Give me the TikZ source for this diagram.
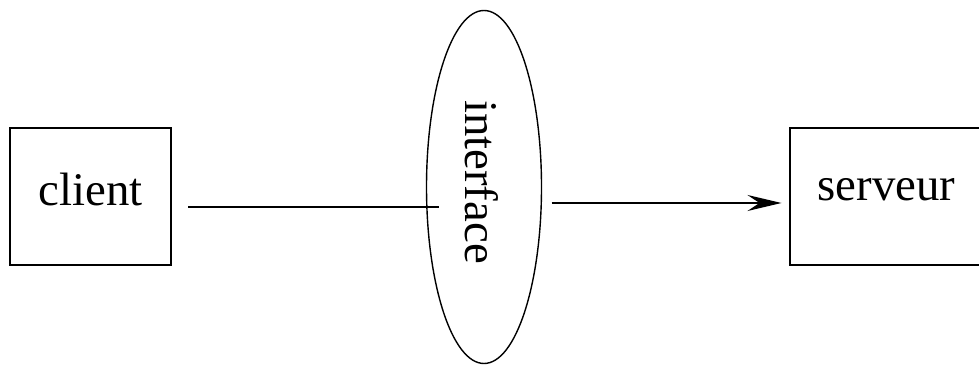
\documentclass[tikz,border=0pt]{standalone}
\usepackage{fontspec}
\setmainfont{Liberation Serif}
\usetikzlibrary{arrows.meta, shapes.geometric, calc}

\tikzset{
  boxnode/.style={draw, line width=1pt, rectangle, minimum height=68.5pt, inner sep=0pt},
  ifacenode/.style={draw, line width=0.7pt, ellipse, minimum width=57.5pt, minimum height=176.5pt, inner sep=0pt},
  link/.style={line width=1pt}
}
\newcommand{\uptext}[2]{\raisebox{#1}[\height][\depth]{#2}}

\begin{document}
\begin{tikzpicture}[x=0.5pt, y=-0.5pt, font=\fontsize{23.4}{28}\selectfont]
    \useasboundingbox (0,0) rectangle (979,367);

    % boites
    \node[boxnode, minimum width=80.5pt] (client) at (90.5,196.5) {\uptext{3.5pt}{client}};
    \node[boxnode, minimum width=97pt] (serveur) at (886.5,196.5) {\uptext{3.5pt}{serveur}};

    % interface
    \node[ifacenode] (iface) at (484,187)
      {\uptext{2.5pt}{\rotatebox{-90}{\uptext{-1pt}{interface}}}};

    % liaisons
    \draw[link] ([shift={(16,10.5)}]client.east) -- ([shift={(13.5,20)}]iface.west);
    \draw[link, -{Stealth[length=17pt, width=8pt, inset=6pt]}]
      ([shift={(9.5,16)}]iface.east) -- ([shift={(-7,6.5)}]serveur.west);
  \end{tikzpicture}
\end{document}
